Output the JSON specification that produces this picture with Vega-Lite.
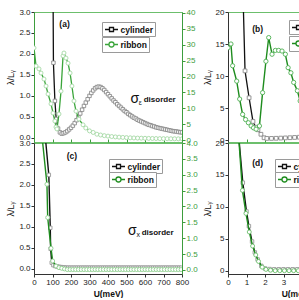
{
"$schema": "https://vega.github.io/schema/vega-lite/v6.json",
"padding": {"left": 6, "top": 7, "right": 0, "bottom": 0},
"background": "white",
"datasets": {
"cyl_a": [{"U":100,"v":6},{"U":105,"v":1.79},{"U":113,"v":0.88},{"U":120,"v":0.45},{"U":130,"v":0.22},{"U":140,"v":0.13},{"U":150,"v":0.1},{"U":160,"v":0.11},{"U":170,"v":0.13},{"U":180,"v":0.16},{"U":190,"v":0.2},{"U":200,"v":0.24},{"U":210,"v":0.29},{"U":220,"v":0.35},{"U":230,"v":0.42},{"U":240,"v":0.5},{"U":250,"v":0.58},{"U":260,"v":0.67},{"U":270,"v":0.76},{"U":280,"v":0.84},{"U":290,"v":0.92},{"U":300,"v":1.0},{"U":310,"v":1.07},{"U":320,"v":1.13},{"U":330,"v":1.18},{"U":340,"v":1.21},{"U":350,"v":1.22},{"U":360,"v":1.21},{"U":370,"v":1.18},{"U":380,"v":1.14},{"U":390,"v":1.09},{"U":400,"v":1.04},{"U":410,"v":0.99},{"U":420,"v":0.94},{"U":430,"v":0.89},{"U":440,"v":0.85},{"U":450,"v":0.8},{"U":460,"v":0.76},{"U":470,"v":0.72},{"U":480,"v":0.68},{"U":490,"v":0.64},{"U":500,"v":0.61},{"U":510,"v":0.57},{"U":520,"v":0.54},{"U":530,"v":0.51},{"U":540,"v":0.48},{"U":550,"v":0.46},{"U":560,"v":0.43},{"U":570,"v":0.41},{"U":580,"v":0.39},{"U":590,"v":0.37},{"U":600,"v":0.35},{"U":610,"v":0.33},{"U":620,"v":0.31},{"U":630,"v":0.3},{"U":640,"v":0.28},{"U":650,"v":0.27},{"U":660,"v":0.25},{"U":670,"v":0.24},{"U":680,"v":0.23},{"U":690,"v":0.22},{"U":700,"v":0.21},{"U":710,"v":0.2},{"U":720,"v":0.19},{"U":730,"v":0.18},{"U":740,"v":0.17},{"U":750,"v":0.16},{"U":760,"v":0.155},{"U":770,"v":0.15},{"U":780,"v":0.14},{"U":790,"v":0.135},{"U":800,"v":0.13}],
"rib_a": [{"U":0,"v":29.0},{"U":11,"v":23.3},{"U":27,"v":22.4},{"U":38,"v":21.1},{"U":54,"v":19.2},{"U":65,"v":17.0},{"U":76,"v":14.5},{"U":92,"v":11.4},{"U":103,"v":8.5},{"U":113,"v":6.0},{"U":119,"v":4.1},{"U":124,"v":3.5},{"U":135,"v":8.2},{"U":146,"v":15.4},{"U":157,"v":26.5},{"U":162,"v":27.4},{"U":173,"v":25.8},{"U":184,"v":24.2},{"U":195,"v":21.1},{"U":205,"v":17.0},{"U":216,"v":12.3},{"U":227,"v":9.1},{"U":243,"v":6.6},{"U":265,"v":4.8},{"U":280,"v":3.8},{"U":300,"v":2.9},{"U":320,"v":2.4},{"U":340,"v":1.85},{"U":360,"v":1.6},{"U":380,"v":1.4},{"U":400,"v":1.25},{"U":420,"v":1.12},{"U":440,"v":1.0},{"U":460,"v":0.92},{"U":480,"v":0.85},{"U":500,"v":0.78},{"U":520,"v":0.72},{"U":540,"v":0.67},{"U":560,"v":0.63},{"U":580,"v":0.6},{"U":600,"v":0.57},{"U":620,"v":0.54},{"U":640,"v":0.51},{"U":660,"v":0.49},{"U":680,"v":0.47},{"U":700,"v":0.45},{"U":720,"v":0.44},{"U":740,"v":0.42},{"U":760,"v":0.41},{"U":780,"v":0.4},{"U":800,"v":0.39}],
"cyl_b": [{"U":0.8,"v":24},{"U":0.92,"v":10.8},{"U":1.14,"v":6.6},{"U":1.35,"v":2.9},{"U":1.5,"v":2.0},{"U":1.62,"v":1.6},{"U":1.78,"v":0.9},{"U":1.95,"v":0.35},{"U":2.1,"v":0.25},{"U":2.35,"v":0.25},{"U":2.6,"v":0.27},{"U":2.85,"v":0.3},{"U":3.1,"v":0.33},{"U":3.35,"v":0.36},{"U":3.6,"v":0.4},{"U":3.85,"v":0.44},{"U":4.1,"v":0.48},{"U":4.35,"v":0.52},{"U":4.6,"v":0.56},{"U":4.85,"v":0.6},{"U":5.1,"v":0.63},{"U":5.6,"v":0.7},{"U":6.1,"v":0.76},{"U":6.6,"v":0.8},{"U":7.1,"v":0.84},{"U":7.6,"v":0.87},{"U":8,"v":0.9}],
"rib_b": [{"U":0,"v":14.4},{"U":0.16,"v":15.0},{"U":0.25,"v":11.6},{"U":0.47,"v":9.2},{"U":0.63,"v":6.4},{"U":0.79,"v":4.0},{"U":0.95,"v":3.2},{"U":1.1,"v":2.7},{"U":1.25,"v":2.2},{"U":1.38,"v":1.9},{"U":1.52,"v":1.7},{"U":1.7,"v":2.2},{"U":1.87,"v":7.4},{"U":2.05,"v":12.3},{"U":2.2,"v":16.0},{"U":2.38,"v":13.4},{"U":2.56,"v":14.0},{"U":2.74,"v":14.0},{"U":2.92,"v":13.9},{"U":3.1,"v":13.4},{"U":3.25,"v":11.3},{"U":3.4,"v":10.5},{"U":3.55,"v":9.0},{"U":3.75,"v":7.7},{"U":3.9,"v":6.1},{"U":4.1,"v":4.5},{"U":4.4,"v":3.0},{"U":4.8,"v":1.8},{"U":5.3,"v":1.0},{"U":6,"v":0.6},{"U":7,"v":0.4},{"U":8,"v":0.3}],
"cyl_c": [{"U":60,"v":3.2},{"U":80,"v":2.24},{"U":88,"v":0.98},{"U":90,"v":0.48},{"U":96,"v":0.15},{"U":105,"v":0.09},{"U":115,"v":0.07},{"U":125,"v":0.06},{"U":135,"v":0.05},{"U":145,"v":0.045},{"U":155,"v":0.04},{"U":165,"v":0.035},{"U":175,"v":0.03},{"U":185,"v":0.03},{"U":195,"v":0.03},{"U":205,"v":0.03},{"U":215,"v":0.03},{"U":225,"v":0.03},{"U":235,"v":0.03},{"U":245,"v":0.03},{"U":255,"v":0.03},{"U":265,"v":0.03},{"U":275,"v":0.03},{"U":285,"v":0.03},{"U":295,"v":0.03},{"U":305,"v":0.03},{"U":315,"v":0.03},{"U":325,"v":0.03},{"U":335,"v":0.03},{"U":345,"v":0.03},{"U":355,"v":0.03},{"U":365,"v":0.03},{"U":375,"v":0.03},{"U":385,"v":0.03},{"U":395,"v":0.03},{"U":405,"v":0.03},{"U":415,"v":0.03},{"U":425,"v":0.03},{"U":435,"v":0.03},{"U":445,"v":0.03},{"U":455,"v":0.03},{"U":465,"v":0.03},{"U":475,"v":0.03},{"U":485,"v":0.03},{"U":495,"v":0.03},{"U":505,"v":0.03},{"U":515,"v":0.03},{"U":525,"v":0.03},{"U":535,"v":0.03},{"U":545,"v":0.03},{"U":555,"v":0.03},{"U":565,"v":0.03},{"U":575,"v":0.03},{"U":585,"v":0.03},{"U":595,"v":0.03},{"U":605,"v":0.03},{"U":615,"v":0.03},{"U":625,"v":0.03},{"U":635,"v":0.03},{"U":645,"v":0.03},{"U":655,"v":0.03},{"U":665,"v":0.03},{"U":675,"v":0.03},{"U":685,"v":0.03},{"U":695,"v":0.03},{"U":705,"v":0.03},{"U":715,"v":0.03},{"U":725,"v":0.03},{"U":735,"v":0.03},{"U":745,"v":0.03},{"U":755,"v":0.03},{"U":765,"v":0.03},{"U":775,"v":0.03},{"U":785,"v":0.03},{"U":795,"v":0.03}],
"rib_c": [{"U":40,"v":4.4},{"U":70,"v":2.7},{"U":74,"v":1.65},{"U":92,"v":0.68},{"U":101,"v":0.28},{"U":119,"v":0.12},{"U":135,"v":0.07},{"U":150,"v":0.05},{"U":165,"v":0.03},{"U":180,"v":0.01},{"U":195,"v":0.01},{"U":210,"v":0.01},{"U":225,"v":0.01},{"U":240,"v":0.01},{"U":255,"v":0.01},{"U":270,"v":0.01},{"U":285,"v":0.01},{"U":300,"v":0.01},{"U":315,"v":0.01},{"U":330,"v":0.01},{"U":345,"v":0.01},{"U":360,"v":0.01},{"U":375,"v":0.01},{"U":390,"v":0.01},{"U":405,"v":0.01},{"U":420,"v":0.01},{"U":435,"v":0.01},{"U":450,"v":0.01},{"U":465,"v":0.01},{"U":480,"v":0.01},{"U":495,"v":0.01},{"U":510,"v":0.01},{"U":525,"v":0.01},{"U":540,"v":0.01},{"U":555,"v":0.01},{"U":570,"v":0.01},{"U":585,"v":0.01},{"U":600,"v":0.01},{"U":615,"v":0.01},{"U":630,"v":0.01},{"U":645,"v":0.01},{"U":660,"v":0.01},{"U":675,"v":0.01},{"U":690,"v":0.01},{"U":705,"v":0.01},{"U":720,"v":0.01},{"U":735,"v":0.01},{"U":750,"v":0.01},{"U":765,"v":0.01},{"U":780,"v":0.01},{"U":795,"v":0.01}],
"cyl_d": [{"U":0.55,"v":22},{"U":0.8,"v":13.8},{"U":1.0,"v":9.3},{"U":1.13,"v":7.0},{"U":1.3,"v":4.6},{"U":1.45,"v":2.9},{"U":1.6,"v":1.8},{"U":1.8,"v":0.8},{"U":2.0,"v":0.4},{"U":2.25,"v":0.3},{"U":2.5,"v":0.27},{"U":2.75,"v":0.27},{"U":3.0,"v":0.27},{"U":3.25,"v":0.27},{"U":3.5,"v":0.27},{"U":3.75,"v":0.27},{"U":4.0,"v":0.27},{"U":4.25,"v":0.27},{"U":4.5,"v":0.27},{"U":4.75,"v":0.27},{"U":5.0,"v":0.27},{"U":5.5,"v":0.27},{"U":6.0,"v":0.27},{"U":6.5,"v":0.27},{"U":7.0,"v":0.27},{"U":7.5,"v":0.27},{"U":8.0,"v":0.27}],
"rib_d": [{"U":0.55,"v":22},{"U":0.78,"v":12.6},{"U":0.97,"v":9.0},{"U":1.15,"v":6.1},{"U":1.33,"v":3.9},{"U":1.5,"v":2.5},{"U":1.65,"v":1.5},{"U":1.85,"v":0.6},{"U":2.05,"v":0.25},{"U":2.3,"v":0.12},{"U":2.55,"v":0.05},{"U":2.8,"v":0.05},{"U":3.05,"v":0.05},{"U":3.3,"v":0.05},{"U":3.55,"v":0.05},{"U":3.8,"v":0.05},{"U":4.05,"v":0.05},{"U":4.3,"v":0.05},{"U":4.55,"v":0.05},{"U":4.8,"v":0.05},{"U":5.3,"v":0.05},{"U":5.8,"v":0.05},{"U":6.3,"v":0.05},{"U":6.8,"v":0.05},{"U":7.3,"v":0.05},{"U":7.8,"v":0.05}]
},
"columns": 2,
"spacing": {"row": 1, "column": 46},
"bounds": "flush",
"resolve": {"scale": {"color": "independent"}, "legend": {"color": "independent"}},
"concat": [
 {"width": 148, "height": 130,
  "layer": [
   {"layer": [
    {"data": {"name": "cyl_a"}, "mark": {"type": "line", "color": "#111", "strokeWidth": 1.3, "clip": true},
     "encoding": {
      "x": {"field": "U", "type": "quantitative", "scale": {"domain": [0, 800], "nice": false, "zero": false}, "axis": {"title": null, "labels": false, "domain": false, "tickSize": -3, "tickColor": "#3d9d3d", "values": [0,100,200,300,400,500,600,700,800]}},
      "y": {"field": "v", "type": "quantitative", "scale": {"domain": [-0.1, 3.0], "nice": false, "zero": false}, "axis": {"orient": "left", "title": "λ/Lᵧ", "values": [0,0.5,1,1.5,2,2.5,3], "format": ".1f", "domainColor": "#3d9d3d"}},
      "color": {"datum": "cylinder", "scale": {"range": ["#111"]}, "legend": {"title": null, "orient": "none", "legendX": 68, "legendY": 10, "symbolType": "M-1.3,0H-0.4M0.4,0H1.3M-0.4,-0.4H0.4V0.4H-0.4Z"}}
     }},
    {"data": {"name": "cyl_a"}, "mark": {"type": "point", "shape": "square", "filled": true, "fill": "white", "stroke": "#8a8a8a", "strokeWidth": 0.9, "size": 12, "opacity": 1, "clip": true},
     "encoding": {
      "x": {"field": "U", "type": "quantitative", "scale": {"domain": [0, 800], "nice": false, "zero": false}},
      "y": {"field": "v", "type": "quantitative", "scale": {"domain": [-0.1, 3.0], "nice": false, "zero": false}}
     }},
    {"data": {"values": [{"U": 165, "v": 2.71, "t": "(a)"}]}, "mark": {"type": "text", "fontSize": 8.5, "fontWeight": "bold", "align": "center", "baseline": "middle", "color": "#111"},
     "encoding": {"x": {"field": "U", "type": "quantitative", "scale": {"domain": [0, 800], "nice": false, "zero": false}}, "y": {"field": "v", "type": "quantitative", "scale": {"domain": [-0.1, 3.0], "nice": false, "zero": false}}, "text": {"field": "t"}}},
    {"data": {"values": [{"U": 545, "v": 0.83, "t": "σ"}]}, "mark": {"type": "text", "fontSize": 14, "align": "center", "baseline": "alphabetic", "color": "#111"},
     "encoding": {"x": {"field": "U", "type": "quantitative", "scale": {"domain": [0, 800], "nice": false, "zero": false}}, "y": {"field": "v", "type": "quantitative", "scale": {"domain": [-0.1, 3.0], "nice": false, "zero": false}}, "text": {"field": "t"}}},
    {"data": {"values": [{"U": 574, "v": 0.78, "t": "ε"}]}, "mark": {"type": "text", "fontSize": 7, "align": "center", "baseline": "alphabetic", "color": "#111"},
     "encoding": {"x": {"field": "U", "type": "quantitative", "scale": {"domain": [0, 800], "nice": false, "zero": false}}, "y": {"field": "v", "type": "quantitative", "scale": {"domain": [-0.1, 3.0], "nice": false, "zero": false}}, "text": {"field": "t"}}},
    {"data": {"values": [{"U": 593, "v": 0.85, "t": "disorder"}]}, "mark": {"type": "text", "fontSize": 8, "fontWeight": "bold", "align": "left", "baseline": "alphabetic", "color": "#111"},
     "encoding": {"x": {"field": "U", "type": "quantitative", "scale": {"domain": [0, 800], "nice": false, "zero": false}}, "y": {"field": "v", "type": "quantitative", "scale": {"domain": [-0.1, 3.0], "nice": false, "zero": false}}, "text": {"field": "t"}}}
   ]},
   {"layer": [
    {"data": {"name": "rib_a"}, "mark": {"type": "line", "color": "#3aa53a", "strokeWidth": 1.3, "clip": true},
     "encoding": {
      "x": {"field": "U", "type": "quantitative", "scale": {"domain": [0, 800], "nice": false, "zero": false}},
      "y": {"field": "v", "type": "quantitative", "scale": {"domain": [-0.6, 40.3], "nice": false, "zero": false}, "axis": {"orient": "right", "title": null, "values": [0,5,10,15,20,25,30,35,40], "format": "d", "labelColor": "#3d9d3d", "tickColor": "#3d9d3d", "domainColor": "#3d9d3d"}},
      "color": {"datum": "ribbon", "scale": {"range": ["#3aa53a"]}, "legend": {"title": null, "orient": "none", "legendX": 68, "legendY": 25, "symbolType": "M-1.3,0H-0.5M0.5,0H1.3M0.5,0A0.5,0.5,0,1,1,-0.5,0A0.5,0.5,0,1,1,0.5,0Z"}}
     }},
    {"data": {"name": "rib_a"}, "mark": {"type": "point", "shape": "circle", "filled": true, "fill": "white", "stroke": "#a6d9a6", "strokeWidth": 0.9, "size": 16, "opacity": 1, "clip": true},
     "encoding": {
      "x": {"field": "U", "type": "quantitative", "scale": {"domain": [0, 800], "nice": false, "zero": false}},
      "y": {"field": "v", "type": "quantitative", "scale": {"domain": [-0.6, 40.3], "nice": false, "zero": false}}
     }}
   ]}
  ],
  "resolve": {"scale": {"y": "independent", "color": "independent"}, "legend": {"color": "independent"}}
 },
 {"width": 148, "height": 130,
  "layer": [
   {"layer": [
    {"data": {"name": "cyl_b"}, "mark": {"type": "line", "color": "#111", "strokeWidth": 1.3, "clip": true},
     "encoding": {
      "x": {"field": "U", "type": "quantitative", "scale": {"domain": [0, 8], "nice": false, "zero": false}, "axis": {"title": null, "labels": false, "domain": false, "tickSize": -3, "tickColor": "#3d9d3d", "values": [0,1,2,3,4,5,6,7,8]}},
      "y": {"field": "v", "type": "quantitative", "scale": {"domain": [-0.31, 20], "nice": false, "zero": false}, "axis": {"orient": "left", "title": "λ/Lᵧ", "values": [0,5,10,15,20], "format": "d"}},
      "color": {"datum": "cylinder", "scale": {"range": ["#111"]}, "legend": {"title": null, "orient": "none", "legendX": 61, "legendY": 8, "symbolType": "M-1.3,0H-0.4M0.4,0H1.3M-0.4,-0.4H0.4V0.4H-0.4Z"}}
     }},
    {"data": {"name": "cyl_b"}, "mark": {"type": "point", "shape": "square", "filled": true, "fill": "white", "stroke": "#8a8a8a", "strokeWidth": 0.9, "size": 14, "opacity": 1, "clip": true},
     "encoding": {
      "x": {"field": "U", "type": "quantitative", "scale": {"domain": [0, 8], "nice": false, "zero": false}},
      "y": {"field": "v", "type": "quantitative", "scale": {"domain": [-0.31, 20], "nice": false, "zero": false}}
     }},
    {"data": {"values": [{"U": 1.6, "v": 17.3, "t": "(b)"}]}, "mark": {"type": "text", "fontSize": 8.5, "fontWeight": "bold", "align": "center", "baseline": "middle", "color": "#111"},
     "encoding": {"x": {"field": "U", "type": "quantitative", "scale": {"domain": [0, 8], "nice": false, "zero": false}}, "y": {"field": "v", "type": "quantitative", "scale": {"domain": [-0.31, 20], "nice": false, "zero": false}}, "text": {"field": "t"}}}
   ]},
   {"layer": [
    {"data": {"name": "rib_b"}, "mark": {"type": "line", "color": "#1e8c1e", "strokeWidth": 1.4, "clip": true},
     "encoding": {
      "x": {"field": "U", "type": "quantitative", "scale": {"domain": [0, 8], "nice": false, "zero": false}},
      "y": {"field": "v", "type": "quantitative", "scale": {"domain": [-0.31, 20], "nice": false, "zero": false}},
      "color": {"datum": "ribbon", "scale": {"range": ["#1e8c1e"]}, "legend": {"title": null, "orient": "none", "legendX": 61, "legendY": 24, "symbolType": "M-1.3,0H-0.5M0.5,0H1.3M0.5,0A0.5,0.5,0,1,1,-0.5,0A0.5,0.5,0,1,1,0.5,0Z"}}
     }},
    {"data": {"name": "rib_b"}, "mark": {"type": "point", "shape": "circle", "filled": true, "fill": "white", "stroke": "#4caf50", "strokeWidth": 0.9, "size": 18, "opacity": 1, "clip": true},
     "encoding": {
      "x": {"field": "U", "type": "quantitative", "scale": {"domain": [0, 8], "nice": false, "zero": false}},
      "y": {"field": "v", "type": "quantitative", "scale": {"domain": [-0.31, 20], "nice": false, "zero": false}}
     }}
   ]}
  ],
  "resolve": {"scale": {"color": "independent"}, "legend": {"color": "independent"}}
 },
 {"width": 148, "height": 131,
  "layer": [
   {"layer": [
    {"data": {"name": "cyl_c"}, "mark": {"type": "line", "color": "#111", "strokeWidth": 1.4, "clip": true},
     "encoding": {
      "x": {"field": "U", "type": "quantitative", "scale": {"domain": [0, 800], "nice": false, "zero": false}, "axis": {"title": "U(meV)", "titleFontWeight": "bold", "titleFontSize": 8.5, "values": [0,100,200,300,400,500,600,700,800]}},
      "y": {"field": "v", "type": "quantitative", "scale": {"domain": [-0.12, 3.0], "nice": false, "zero": false}, "axis": {"orient": "left", "title": "λ/Lᵧ", "values": [0,0.5,1,1.5,2,2.5,3], "format": ".1f"}},
      "color": {"datum": "cylinder", "scale": {"range": ["#111"]}, "legend": {"title": null, "orient": "none", "legendX": 75, "legendY": 16, "symbolType": "M-1.3,0H-0.4M0.4,0H1.3M-0.4,-0.4H0.4V0.4H-0.4Z"}}
     }},
    {"data": {"name": "cyl_c"}, "mark": {"type": "point", "shape": "square", "filled": true, "fill": "white", "stroke": "#999999", "strokeWidth": 0.9, "size": 12, "opacity": 1, "clip": true},
     "encoding": {
      "x": {"field": "U", "type": "quantitative", "scale": {"domain": [0, 800], "nice": false, "zero": false}},
      "y": {"field": "v", "type": "quantitative", "scale": {"domain": [-0.12, 3.0], "nice": false, "zero": false}}
     }},
    {"data": {"values": [{"U": 205, "v": 2.69, "t": "(c)"}]}, "mark": {"type": "text", "fontSize": 8.5, "fontWeight": "bold", "align": "center", "baseline": "middle", "color": "#111"},
     "encoding": {"x": {"field": "U", "type": "quantitative", "scale": {"domain": [0, 800], "nice": false, "zero": false}}, "y": {"field": "v", "type": "quantitative", "scale": {"domain": [-0.12, 3.0], "nice": false, "zero": false}}, "text": {"field": "t"}}},
    {"data": {"values": [{"U": 532, "v": 0.81, "t": "σ"}]}, "mark": {"type": "text", "fontSize": 14, "align": "center", "baseline": "alphabetic", "color": "#111"},
     "encoding": {"x": {"field": "U", "type": "quantitative", "scale": {"domain": [0, 800], "nice": false, "zero": false}}, "y": {"field": "v", "type": "quantitative", "scale": {"domain": [-0.12, 3.0], "nice": false, "zero": false}}, "text": {"field": "t"}}},
    {"data": {"values": [{"U": 564, "v": 0.75, "t": "x"}]}, "mark": {"type": "text", "fontSize": 7, "align": "center", "baseline": "alphabetic", "color": "#111"},
     "encoding": {"x": {"field": "U", "type": "quantitative", "scale": {"domain": [0, 800], "nice": false, "zero": false}}, "y": {"field": "v", "type": "quantitative", "scale": {"domain": [-0.12, 3.0], "nice": false, "zero": false}}, "text": {"field": "t"}}},
    {"data": {"values": [{"U": 582, "v": 0.81, "t": "disorder"}]}, "mark": {"type": "text", "fontSize": 8, "fontWeight": "bold", "align": "left", "baseline": "alphabetic", "color": "#111"},
     "encoding": {"x": {"field": "U", "type": "quantitative", "scale": {"domain": [0, 800], "nice": false, "zero": false}}, "y": {"field": "v", "type": "quantitative", "scale": {"domain": [-0.12, 3.0], "nice": false, "zero": false}}, "text": {"field": "t"}}}
   ]},
   {"layer": [
    {"data": {"name": "rib_c"}, "mark": {"type": "line", "color": "#1e8c1e", "strokeWidth": 1.4, "clip": true},
     "encoding": {
      "x": {"field": "U", "type": "quantitative", "scale": {"domain": [0, 800], "nice": false, "zero": false}},
      "y": {"field": "v", "type": "quantitative", "scale": {"domain": [-0.13, 4.0], "nice": false, "zero": false}, "axis": {"orient": "right", "title": null, "values": [0,0.5,1,1.5,2,2.5,3,3.5,4], "format": ".1f", "labelColor": "#3d9d3d", "tickColor": "#3d9d3d", "domainColor": "#3d9d3d"}},
      "color": {"datum": "ribbon", "scale": {"range": ["#1e8c1e"]}, "legend": {"title": null, "orient": "none", "legendX": 75, "legendY": 29, "symbolType": "M-1.3,0H-0.5M0.5,0H1.3M0.5,0A0.5,0.5,0,1,1,-0.5,0A0.5,0.5,0,1,1,0.5,0Z"}}
     }},
    {"data": {"name": "rib_c"}, "mark": {"type": "point", "shape": "circle", "filled": true, "fill": "white", "stroke": "#8fcf8f", "strokeWidth": 0.9, "size": 16, "opacity": 1, "clip": true},
     "encoding": {
      "x": {"field": "U", "type": "quantitative", "scale": {"domain": [0, 800], "nice": false, "zero": false}},
      "y": {"field": "v", "type": "quantitative", "scale": {"domain": [-0.13, 4.0], "nice": false, "zero": false}}
     }}
   ]}
  ],
  "resolve": {"scale": {"y": "independent", "color": "independent"}, "legend": {"color": "independent"}}
 },
 {"width": 148, "height": 131,
  "layer": [
   {"layer": [
    {"data": {"name": "cyl_d"}, "mark": {"type": "line", "color": "#111", "strokeWidth": 1.4, "clip": true},
     "encoding": {
      "x": {"field": "U", "type": "quantitative", "scale": {"domain": [0, 8], "nice": false, "zero": false}, "axis": {"title": "U(meV)", "titleFontWeight": "bold", "titleFontSize": 8.5, "titleX": 68, "values": [0,1,2,3,4,5,6,7,8], "format": "d"}},
      "y": {"field": "v", "type": "quantitative", "scale": {"domain": [-0.47, 20], "nice": false, "zero": false}, "axis": {"orient": "left", "title": "λ/Lᵧ", "values": [0,5,10,15,20], "format": "d"}},
      "color": {"datum": "cylinder", "scale": {"range": ["#111"]}, "legend": {"title": null, "orient": "none", "legendX": 47, "legendY": 16, "symbolType": "M-1.3,0H-0.4M0.4,0H1.3M-0.4,-0.4H0.4V0.4H-0.4Z"}}
     }},
    {"data": {"name": "cyl_d"}, "mark": {"type": "point", "shape": "square", "filled": true, "fill": "white", "stroke": "#999999", "strokeWidth": 0.9, "size": 12, "opacity": 1, "clip": true},
     "encoding": {
      "x": {"field": "U", "type": "quantitative", "scale": {"domain": [0, 8], "nice": false, "zero": false}},
      "y": {"field": "v", "type": "quantitative", "scale": {"domain": [-0.47, 20], "nice": false, "zero": false}}
     }},
    {"data": {"values": [{"U": 1.6, "v": 16.9, "t": "(d)"}]}, "mark": {"type": "text", "fontSize": 8.5, "fontWeight": "bold", "align": "center", "baseline": "middle", "color": "#111"},
     "encoding": {"x": {"field": "U", "type": "quantitative", "scale": {"domain": [0, 8], "nice": false, "zero": false}}, "y": {"field": "v", "type": "quantitative", "scale": {"domain": [-0.47, 20], "nice": false, "zero": false}}, "text": {"field": "t"}}}
   ]},
   {"layer": [
    {"data": {"name": "rib_d"}, "mark": {"type": "line", "color": "#1e8c1e", "strokeWidth": 1.4, "clip": true},
     "encoding": {
      "x": {"field": "U", "type": "quantitative", "scale": {"domain": [0, 8], "nice": false, "zero": false}},
      "y": {"field": "v", "type": "quantitative", "scale": {"domain": [-0.47, 20], "nice": false, "zero": false}},
      "color": {"datum": "ribbon", "scale": {"range": ["#1e8c1e"]}, "legend": {"title": null, "orient": "none", "legendX": 47, "legendY": 29, "symbolType": "M-1.3,0H-0.5M0.5,0H1.3M0.5,0A0.5,0.5,0,1,1,-0.5,0A0.5,0.5,0,1,1,0.5,0Z"}}
     }},
    {"data": {"name": "rib_d"}, "mark": {"type": "point", "shape": "circle", "filled": true, "fill": "white", "stroke": "#6cbf6c", "strokeWidth": 0.9, "size": 16, "opacity": 1, "clip": true},
     "encoding": {
      "x": {"field": "U", "type": "quantitative", "scale": {"domain": [0, 8], "nice": false, "zero": false}},
      "y": {"field": "v", "type": "quantitative", "scale": {"domain": [-0.47, 20], "nice": false, "zero": false}}
     }}
   ]}
  ],
  "resolve": {"scale": {"color": "independent"}, "legend": {"color": "independent"}}
 }
],
"config": {
 "view": {"stroke": "#6cbf6c", "strokeWidth": 1},
 "font": "Liberation Sans",
 "axis": {"grid": false, "tickCount": 50, "labelFont": "Liberation Sans", "labelFontSize": 8, "labelColor": "#222", "tickColor": "#333", "domainColor": "#333", "tickSize": 3, "labelPadding": 1, "labelFlush": false, "labelOverlap": false, "titleFont": "Liberation Sans, DejaVu Sans", "titleFontSize": 9, "titleFontWeight": "normal", "titleColor": "#111", "titlePadding": 3},
 "legend": {"symbolSize": 100, "symbolStrokeWidth": 1.3, "symbolFillColor": "white", "labelFont": "Liberation Sans", "labelFontSize": 8.5, "labelFontWeight": "bold", "labelColor": "#111", "labelOffset": 3, "symbolOffset": 2, "padding": 1.5, "strokeColor": "#9a9a9a", "fillColor": "white", "cornerRadius": 0}
}
}
